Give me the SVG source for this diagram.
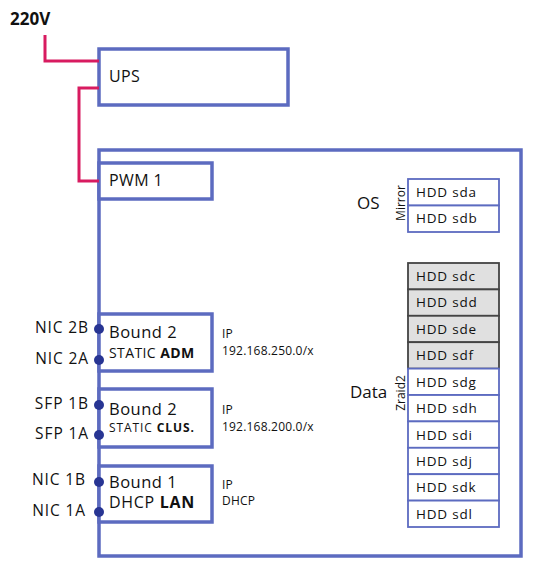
<svg xmlns="http://www.w3.org/2000/svg" width="536" height="572" viewBox="0 0 536 572">
<style>
text{font-family:"Open Sans","Liberation Sans",sans-serif;fill:#111}
.box{fill:#fff;stroke:#5c6bc0;stroke-width:3.5}
.hdd{fill:#fff;stroke:#5c6bc0;stroke-width:1.8}
.hddg{fill:#e0e0e0;stroke:#444;stroke-width:1.8}
.pw{fill:none;stroke:#d81b60;stroke-width:3}
.dot{fill:#283593}
.lbl{font-size:16px;letter-spacing:0.4px}
.bnd{font-size:16.5px;letter-spacing:0.5px}
.port{font-size:15.5px;letter-spacing:0.9px;text-anchor:end}
.ip{font-size:12px;letter-spacing:0.2px}
.ht{font-size:13.5px;letter-spacing:0.8px}
.b{font-weight:bold}
</style>
<rect width="536" height="572" fill="#fff"/>
<text x="10" y="25" font-size="17" font-weight="bold">220V</text>
<g id="server">
<rect class="box" x="99" y="150" width="422" height="406"/>
</g>
<g id="ups">
<rect class="box" x="99" y="49" width="189" height="56"/>
<text class="lbl" x="109" y="82">UPS</text>
</g>
<g id="pwm1">
<rect class="box" x="99" y="163" width="113" height="36"/>
<text class="lbl" x="109" y="186">PWM 1</text>
</g>
<g id="connectors">
<polyline class="pw" points="45,35 45,61 99,61"/>
<polyline class="pw" points="99,88 79,88 79,181 99,181"/>
</g>
<g id="bond-adm">
<rect class="box" x="99" y="314" width="113" height="57"/>
<text class="bnd" x="109" y="338">Bound 2</text>
<text x="109" y="357.5" font-size="14" letter-spacing="0.4">STATIC <tspan class="b">ADM</tspan></text>
<text class="ip" x="222" y="338">IP</text>
<text class="ip" x="222" y="355">192.168.250.0/x</text>
<circle class="dot" cx="99" cy="329" r="5"/>
<circle class="dot" cx="99" cy="360" r="5"/>
<text class="port" x="89" y="333">NIC 2B</text>
<text class="port" x="89" y="364">NIC 2A</text>
</g>
<g id="bond-clus">
<rect class="box" x="99" y="389" width="113" height="58"/>
<text class="bnd" x="109" y="415">Bound 2</text>
<text x="109" y="432" font-size="12" letter-spacing="0.9">STATIC <tspan class="b">CLUS.</tspan></text>
<text class="ip" x="222" y="414">IP</text>
<text class="ip" x="222" y="431">192.168.200.0/x</text>
<circle class="dot" cx="99" cy="405" r="5"/>
<circle class="dot" cx="99" cy="435" r="5"/>
<text class="port" x="89" y="409">SFP 1B</text>
<text class="port" x="89" y="439">SFP 1A</text>
</g>
<g id="bond-lan">
<rect class="box" x="99" y="466" width="113" height="56"/>
<text class="bnd" x="109" y="488">Bound 1</text>
<text x="109" y="508" font-size="16" letter-spacing="0.7">DHCP <tspan class="b">LAN</tspan></text>
<text class="ip" x="222" y="489">IP</text>
<text class="ip" x="222" y="505">DHCP</text>
<circle class="dot" cx="99" cy="482" r="5"/>
<circle class="dot" cx="99" cy="512" r="5"/>
<text class="port" x="86" y="485">NIC 1B</text>
<text class="port" x="86" y="516">NIC 1A</text>
</g>
<g id="os">
<text x="357" y="209" font-size="17">OS</text>
<text transform="translate(405,203) rotate(-90)" text-anchor="middle" font-size="12">Mirror</text>
<rect class="hdd" x="408" y="179" width="91" height="26.5"/>
<rect class="hdd" x="408" y="205.5" width="91" height="26.5"/>
<text class="ht" x="416" y="197">HDD sda</text>
<text class="ht" x="416" y="223">HDD sdb</text>
</g>
<g id="data">
<text x="350" y="398" font-size="17">Data</text>
<text transform="translate(405,393) rotate(-90)" text-anchor="middle" font-size="12">Zraid2</text>
<rect class="hddg" x="408" y="263" width="91" height="26.4"/>
<rect class="hddg" x="408" y="289.4" width="91" height="26.4"/>
<rect class="hddg" x="408" y="315.8" width="91" height="26.4"/>
<rect class="hddg" x="408" y="342.2" width="91" height="26.4"/>
<rect class="hdd" x="408" y="368.6" width="91" height="26.4"/>
<rect class="hdd" x="408" y="395" width="91" height="26.4"/>
<rect class="hdd" x="408" y="421.4" width="91" height="26.4"/>
<rect class="hdd" x="408" y="447.8" width="91" height="26.4"/>
<rect class="hdd" x="408" y="474.2" width="91" height="26.4"/>
<rect class="hdd" x="408" y="500.6" width="91" height="26.4"/>
<text class="ht" x="416" y="281">HDD sdc</text>
<text class="ht" x="416" y="307">HDD sdd</text>
<text class="ht" x="416" y="334">HDD sde</text>
<text class="ht" x="416" y="360">HDD sdf</text>
<text class="ht" x="416" y="387">HDD sdg</text>
<text class="ht" x="416" y="413">HDD sdh</text>
<text class="ht" x="416" y="440">HDD sdi</text>
<text class="ht" x="416" y="466">HDD sdj</text>
<text class="ht" x="416" y="492">HDD sdk</text>
<text class="ht" x="416" y="519">HDD sdl</text>
</g>
</svg>
